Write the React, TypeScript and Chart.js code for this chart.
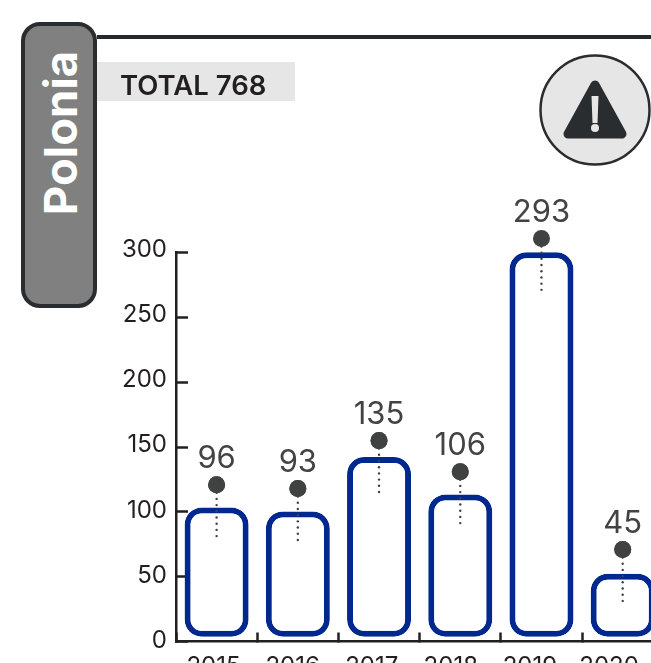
import React, { useEffect, useRef } from "react";
import { Chart, registerables } from "chart.js";

Chart.register(...registerables);

const years = ["2015", "2016", "2017", "2018", "2019", "2020"];
const casesPerYear = [96, 93, 135, 106, 293, 45];
const markerHeights = [121, 118, 155, 131, 311, 71];
const yTickValues = [0, 50, 100, 150, 200, 250, 300];
const countryName = "Polonia";
const totalLabel = "TOTAL 768";

const FONT = "Inter, 'Open Sans', sans-serif";
const INK = "#231f20";
const DARK = "#2a2d30";
const EVERYWHERE = { left: -1e4, top: -1e4, right: 1e4, bottom: 1e4 };

const decorations = {
  id: "decorations",
  beforeDatasetDraw(chart: any, args: any) {
    if (args.index === 0) {
      chart.ctx.save();
      chart.ctx.translate(0, -9.5);
    }
  },
  afterDatasetDraw(chart: any, args: any) {
    if (args.index === 0) chart.ctx.restore();
  },
  afterDatasetsDraw(chart: any) {
    const { ctx } = chart;
    const points = chart.getDatasetMeta(1).data;
    ctx.save();
    points.forEach((p: any, i: number) => {
      ctx.fillStyle = "#404242";
      for (let d = 8; d <= 53; d += 6.2) {
        ctx.beginPath();
        ctx.arc(p.x, p.y + d, 1.2, 0, Math.PI * 2);
        ctx.fill();
      }
      p.draw(ctx, EVERYWHERE);
      ctx.font = `400 31px ${FONT}`;
      ctx.textAlign = "center";
      ctx.textBaseline = "middle";
      ctx.fillStyle = "#434343";
      ctx.fillText(String(casesPerYear[i]), p.x, p.y - 26);
    });
    ctx.restore();
  },
};

export default function App() {
  const ref = useRef<HTMLCanvasElement>(null);
  useEffect(() => {
    const chart = new Chart(ref.current!, {
      type: "bar",
      data: {
        labels: years,
        datasets: [
          {
            type: "bar",
            data: casesPerYear,
            base: -3.6,
            order: 2,
            barThickness: 64,
            borderWidth: 6,
            borderColor: "#00288f",
            backgroundColor: "#ffffff",
            borderRadius: 17,
            borderSkipped: false,
            inflateAmount: 0,
            clip: false,
          },
          {
            type: "line",
            data: markerHeights,
            order: 1,
            showLine: false,
            pointRadius: 8.5,
            pointBorderWidth: 0,
            pointBackgroundColor: "#404242",
            clip: false,
          },
        ],
      } as any,
      options: {
        responsive: false,
        animation: false,
        layout: { padding: { left: 0, top: 252.7, right: 36.7, bottom: 0 } },
        plugins: { legend: { display: false }, tooltip: { enabled: false } },
        scales: {
          x: {
            offset: true,
            weight: 0,
            afterFit: (s: any) => { s.height = 0; },
            border: { color: INK, width: 2.5 },
            grid: { offset: true, drawOnChartArea: false, tickLength: -9, tickColor: INK, tickWidth: 2.5 },
            ticks: { display: false },
          },
          yearLabels: {
            type: "linear",
            position: "bottom",
            offset: false,
            weight: 1,
            min: -0.474,
            max: 5.686,
            afterBuildTicks: (s: any) => { s.ticks = years.map((_, i) => ({ value: i })); },
            afterFit: (s: any) => { s.height = 58.5; },
            border: { display: false },
            grid: { display: false, drawTicks: false, offset: false },
            ticks: {
              autoSkip: false,
              maxRotation: 0,
              padding: 11,
              color: INK,
              font: { family: FONT, size: 24, weight: 400 },
              callback: (v: number) => years[v],
            },
          },
          y: {
            min: 0,
            max: 300,
            weight: 0,
            afterFit: (s: any) => { s.width = 0; },
            border: { color: INK, width: 2.5 },
            grid: { drawOnChartArea: false, tickLength: -12, tickColor: INK, tickWidth: 2.5 },
            ticks: { stepSize: 50, display: false },
          },
          yLabels: {
            type: "linear",
            position: "left",
            weight: 1,
            min: -0.6,
            max: 297.6,
            afterBuildTicks: (s: any) => { s.ticks = yTickValues.map((value) => ({ value })); },
            afterFit: (s: any) => { s.width = 176; },
            border: { display: false },
            grid: { display: false, drawTicks: false },
            ticks: { autoSkip: false, padding: 9, color: INK, font: { family: FONT, size: 24, weight: 400 } },
          },
        },
      } as any,
      plugins: [decorations],
    });
    return () => chart.destroy();
  }, []);

  return (
    <div style={{ position: "fixed", left: 0, top: 0, width: 651, height: 663, overflow: "hidden", background: "#fff" }}>
      <canvas ref={ref} width={700} height={700} style={{ position: "absolute", left: 0, top: 0, display: "block" }} />
      <div style={{ position: "absolute", left: 97, top: 35, width: 554, height: 4, background: "#26292c" }} />
      <div style={{ position: "absolute", left: 97, top: 62, width: 198, height: 39, background: "#e6e6e6" }} />
      <div style={{ position: "absolute", left: 120, top: 62, height: 47, lineHeight: "47px", fontFamily: FONT, fontWeight: 600, fontSize: 27.5, color: "#231f20", whiteSpace: "nowrap" }}>{totalLabel}</div>
      <div style={{ position: "absolute", left: 21, top: 22, width: 76, height: 286, boxSizing: "border-box", background: "#808080", border: `4px solid ${DARK}`, borderRadius: 19 }} />
      <div style={{ position: "absolute", left: 60, top: 133, width: 0, height: 0 }}>
        <div style={{ position: "absolute", transform: "translate(-50%,-50%) rotate(-90deg)", fontFamily: FONT, fontWeight: 700, fontSize: 45.5, color: "#fff", whiteSpace: "nowrap" }}>{countryName}</div>
      </div>
      <svg width={112} height={112} viewBox="0 0 112 112" style={{ position: "absolute", left: 539, top: 54 }}>
        <circle cx={56} cy={56} r={54.5} fill="#e6e6e6" stroke={DARK} strokeWidth={2.5} />
        <path d="M56 31 L83 80 L29 80 Z" fill="#2a2d30" stroke="#2a2d30" strokeWidth={9} strokeLinejoin="round" />
        <path d="M52.5 42 L59.5 42 L58.5 69 L53.5 69 Z" fill="#e6e6e6" />
        <circle cx={56} cy={74} r={4} fill="#e6e6e6" />
      </svg>
    </div>
  );
}
